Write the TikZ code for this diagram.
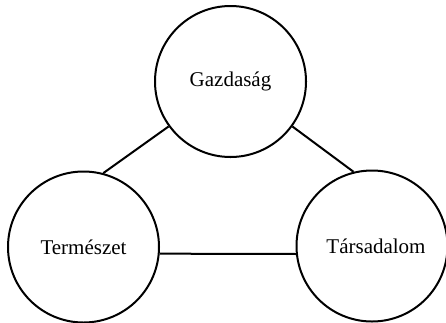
\documentclass[tikz,border=0pt]{standalone}
\usepackage{fontspec}
\setmainfont{Liberation Serif}
\begin{document}
\begin{tikzpicture}[x=1pt,y=-1pt,
  bubble/.style={circle,draw=black,line width=2pt,minimum size=151pt,inner sep=0pt,
    font=\fontsize{21}{25}\selectfont},
  link/.style={line width=2pt}]
\useasboundingbox (0,0) rectangle (446,322);
\node[bubble] (g) at (230.5,81.5) {Gazdaság};
\node[bubble] (t) at (83.5,247) {Természet};
\node[bubble] (s) at (372,246) {\hspace*{8pt}Társadalom};
\draw[link] (g.216) -- (t.75);
\draw[link] (g.324.6) -- (s.104.6);
\draw[link] (t.-5) -- (s.186);
\end{tikzpicture}
\end{document}
